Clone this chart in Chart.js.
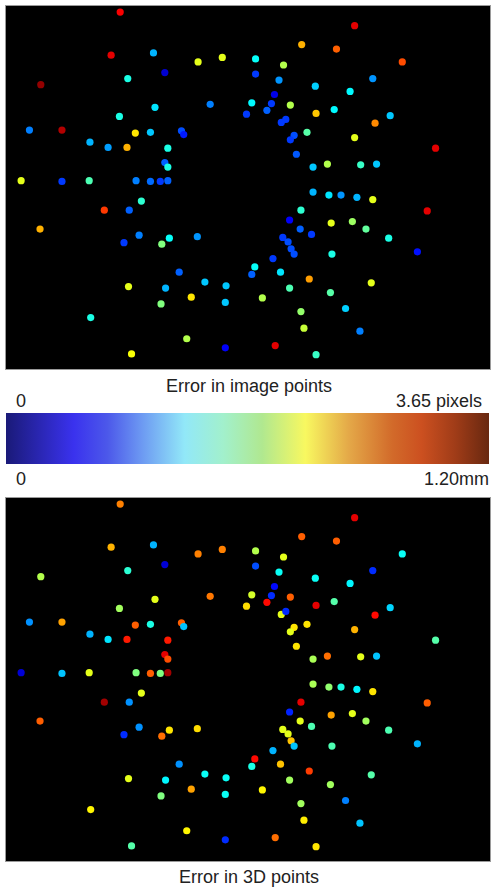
<!DOCTYPE html>
<html>
<head>
<meta charset="utf-8">
<script src="https://cdn.jsdelivr.net/npm/chart.js@4.4.1/dist/chart.umd.min.js"></script>
<style>
  body { margin: 0; background: #fff; font-family: Arial, "Liberation Sans", sans-serif; color: #222; }
  .plot { position: absolute; left: 5px; width: 484px; height: 363px; border: 1px solid #9a9a9a; background: #000; }
  .plot canvas { display: block; }
  .txt { position: absolute; font-size: 18px; line-height: 18px; white-space: nowrap; }
  #bar { position: absolute; left: 6px; top: 413px; width: 483px; height: 51px;
    background: linear-gradient(to right, #1a1a78 0%, #3a32ee 14%, #4c58ea 21%, #6c98f2 28%, #92e8f8 37%, #a2f0cc 45%,
      #b0e890 53%, #f8f860 62%, #e4a848 71%, #d26a2a 80%, #cc5020 86%, #a03c18 93%, #682810 100%); }
</style>
</head>
<body>
<div class="plot" style="top:5px"><canvas id="imgChart" width="484" height="363"></canvas></div>
<div class="txt" style="top:377px;left:0;width:498px;text-align:center">Error in image points</div>
<div class="txt" style="top:392px;left:16px">0</div>
<div class="txt" style="top:392px;right:10px">3.65 pixels</div>
<div id="bar"></div>
<div class="txt" style="top:470px;left:16px">0</div>
<div class="txt" style="top:470px;right:3px">1.20mm</div>
<div class="plot" style="top:497px"><canvas id="ptsChart" width="484" height="363"></canvas></div>
<div class="txt" style="top:868px;left:0;width:498px;text-align:center">Error in 3D points</div>

<script>
// image point coordinates (640 x 480 image)
var xs = [151,139,195,254,286,210,46,161,197,270,
  318,325,150,31,74,171,191,232,235,111,
  135,160,214,210,214,20,74,110,172,191,
  204,214,461,391,437,330,367,524,330,361,
  485,409,455,355,351,376,345,434,410,508,
  364,370,488,398,381,376,461,568,384,406,
  425,469,490,406,179,130,163,45,176,156,
  216,206,253,229,325,162,211,263,291,245,
  205,290,112,239,290,166,427,443,464,485,
  557,390,375,430,458,476,389,404,506,366,
  373,377,381,544,431,353,329,363,401,483,
  375,429,339,449,390,394,468,356,410];
var ys = [8,65,62,74,68,88,104,96,134,130,
  143,128,146,164,164,168,167,165,170,180,
  187,187,188,207,213,231,232,231,231,232,
  232,231,26,51,57,70,78,74,90,98,
  96,106,113,117,129,131,138,137,142,145,
  154,150,155,167,171,177,174,188,196,213,
  209,210,209,246,258,270,270,295,303,313,
  307,315,305,352,355,371,373,365,370,385,
  394,392,412,440,452,460,250,250,253,256,
  271,270,283,287,285,295,295,302,307,306,
  312,321,328,325,328,334,345,352,361,366,
  373,379,386,400,404,426,430,449,461];
// reprojection error per point, pixels
var errPx = [3.21,3.29,1.10,2.19,2.19,0.29,3.58,1.46,1.28,0.91,
  0.66,1.35,1.46,0.91,3.47,2.37,1.17,0.73,0.55,1.10,
  1.02,2.56,1.46,0.80,1.46,2.19,0.66,1.64,0.91,0.84,
  0.66,0.80,3.29,2.56,2.85,1.39,2.01,2.92,0.66,0.99,
  0.99,1.20,1.35,0.37,0.66,2.01,0.80,1.35,2.48,1.17,
  0.66,0.66,2.70,1.68,0.73,0.66,2.19,3.29,0.77,1.17,
  2.01,1.57,1.17,1.10,1.53,2.99,0.80,2.56,0.91,0.66,
  1.39,1.83,0.99,0.80,0.80,2.19,1.10,1.17,1.17,2.37,
  1.83,1.17,1.46,2.01,0.44,2.26,1.28,0.99,1.10,2.19,
  3.29,1.53,0.44,2.19,1.93,1.72,0.80,0.66,1.46,0.66,
  0.73,0.73,0.73,0.51,1.46,0.66,1.39,1.28,2.63,2.19,
  1.64,1.68,2.01,1.20,1.90,2.08,0.91,3.29,1.57];
// 3D point error, mm
var errMm = [0.90,0.84,0.36,0.90,0.90,0.10,0.66,0.50,0.72,0.91,
  0.79,0.70,0.64,0.32,0.86,0.94,0.48,0.94,0.38,0.36,
  0.42,1.02,1.02,1.08,0.96,0.10,0.38,0.72,0.60,0.94,
  0.60,1.16,1.08,0.94,0.94,0.66,0.72,0.46,0.24,0.46,
  0.20,0.46,0.44,0.16,0.20,0.94,1.04,0.55,1.08,0.40,
  0.72,0.20,1.04,0.78,0.78,0.72,0.84,0.55,0.78,0.65,
  0.92,0.72,0.38,0.65,0.72,1.16,0.32,0.94,0.32,0.20,
  0.78,0.92,0.79,0.32,0.48,0.72,0.44,0.46,0.46,0.86,
  0.60,0.46,0.76,0.76,0.20,0.55,0.62,0.48,0.44,0.78,
  0.94,1.08,0.19,0.86,0.72,0.64,0.72,0.54,0.54,0.72,
  0.72,0.82,0.38,0.36,0.54,0.36,1.04,0.82,0.98,0.55,
  0.64,0.64,0.76,0.30,0.64,0.77,0.38,0.92,0.78];
var maxPx = 3.65;
var maxMm = 1.20;

function jet(v) {
  var c = function (t) { return Math.round(255 * Math.max(0, Math.min(1, t))); };
  return 'rgb(' + c(1.5 - Math.abs(4 * v - 3)) + ',' + c(1.5 - Math.abs(4 * v - 2)) + ',' + c(1.5 - Math.abs(4 * v - 1)) + ')';
}

function makePlot(id, errs, max) {
  var pts = [];
  for (var i = 0; i < xs.length; i++) {
    pts.push({ x: xs[i], y: ys[i] });
  }
  new Chart(document.getElementById(id), {
    type: 'scatter',
    data: {
      datasets: [{
        data: pts,
        pointRadius: 3.6,
        pointBorderWidth: 0,
        pointBackgroundColor: errs.map(function (e) { return jet(e / max); })
      }]
    },
    options: {
      responsive: false,
      animation: false,
      devicePixelRatio: 1,
      layout: { padding: 0, autoPadding: false },
      plugins: { legend: { display: false }, tooltip: { enabled: false } },
      scales: {
        x: { display: false, min: 0, max: 640 },
        y: { display: false, min: 0, max: 480, reverse: true }
      }
    }
  });
}

makePlot('imgChart', errPx, maxPx);
makePlot('ptsChart', errMm, maxMm);
</script>
</body>
</html>
